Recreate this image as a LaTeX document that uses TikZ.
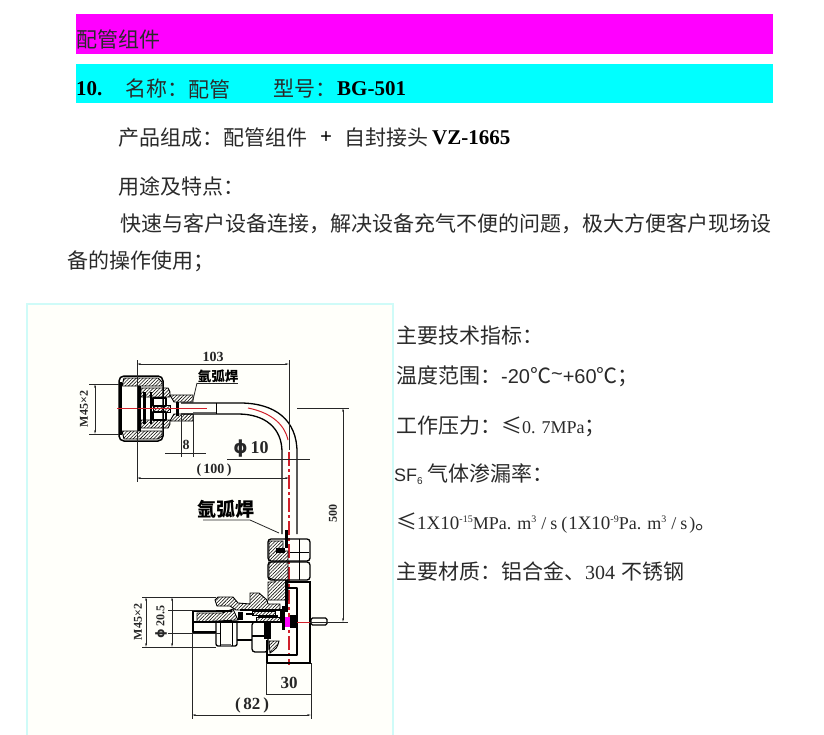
\documentclass[tikz,border=0pt]{standalone}
\usepackage{fontspec}
\usetikzlibrary{patterns.meta,arrows.meta}
\setmainfont{Noto Sans CJK SC}
\newfontfamily\latinserif{Liberation Serif}
\newcommand\latinbold{\latinserif\bfseries}
\newfontfamily\latinsans{Liberation Sans}
\newfontfamily\dejavu{DejaVu Sans}
\definecolor{ink}{HTML}{2A2A2A}
\definecolor{barmag}{HTML}{FF00FF}
\definecolor{barcy}{HTML}{00FFFF}
\definecolor{panelfill}{HTML}{FFFFFA}
\definecolor{panelline}{HTML}{CFFBF8}
\definecolor{cl}{HTML}{D0202A}
\newcommand\supr[1]{\raisebox{7pt}{\fontsize{10}{10}\selectfont #1}}
\tikzset{
  x=1pt,y=-1pt,
  txt/.style={anchor=west,inner sep=0pt,text=ink,font=\fontsize{21}{21}\selectfont},
  boldtxt/.style={txt,text=black,font=\latinbold\fontsize{21}{21}\selectfont},
  part/.style={draw=black,line width=1.3pt,line join=round},
  heavy/.style={draw=black,line width=2.6pt},
  thin part/.style={draw=black,line width=.7pt},
  hatch/.style={pattern={Lines[angle=45,distance=2.4pt,line width=.55pt]},pattern color=black,draw=black,line width=.9pt},
  dimline/.style={draw=black!85,line width=.8pt},
  dimtip/.style={draw=black!85,line width=.8pt,{Stealth[length=4pt,width=1.8pt]}-{Stealth[length=4pt,width=1.8pt]}},
  dimtext/.style={inner sep=0pt,font=\latinbold\fontsize{14}{14}\selectfont,text=black!85},
  vtext/.style={dimtext,rotate=90,font=\latinbold\fontsize{12}{12}\selectfont},
  centerline/.style={draw=cl,line width=1pt},
  centerdash/.style={draw=cl,line width=1.7pt,dash pattern=on 14pt off 3pt on 3pt off 3pt},
}
\begin{document}
\begin{tikzpicture}
\useasboundingbox (0,0) rectangle (824,735);
\fill[white] (0,0) rectangle (824,735);
% header bars
\fill[barmag] (76,14) rectangle (773,54);
\fill[barcy] (76,64) rectangle (773,103);
\node[txt] (t1) at (76,39) {配管组件};
\node[boldtxt] (t2a) at (76,89) {10.};
\node[txt] (t2b) at (125,89) {名称：};
\node[txt] (t2c) at (188,89) {配管};
\node[txt] (t2d) at (273,89) {型号：};
\node[boldtxt] (t2e) at (337,89) {BG-501};
\node[txt] (t3) at (118,138) {产品组成：配管组件};
\node[boldtxt] (t3b) at (320,138) {+};
\node[txt] (t3c) at (344,138) {自封接头};
\node[boldtxt] (t3d) at (432,138) {VZ-1665};
\node[txt] (t4) at (118,186) {用途及特点：};
\node[txt] (t5) at (120,224) {快速与客户设备连接，解决设备充气不便的问题，极大方便客户现场设};
\node[txt] (t6) at (67,261) {备的操作使用；};
% panel
\fill[panelfill] (27,304) rectangle (393,735);
\draw[panelline,line width=1.5pt] (27,735) -- (27,304) -- (393,304) -- (393,735);
% right text
\node[txt] (r1) at (396,336) {主要技术指标：};
\node[txt] (r2) at (396,376) {温度范围：{\latinsans\fontsize{20}{20}\selectfont -20}℃{\latinsans\fontsize{20}{20}\selectfont\raisebox{3pt}{\textasciitilde}+60}℃；};
\node[txt] (r3) at (396,426) {工作压力：≤{\latinserif\fontsize{18}{18}\selectfont 0. 7MPa}；};
\node[txt] (r4) at (394,474) {{\latinsans\fontsize{18}{18}\selectfont SF\raisebox{-3pt}{\fontsize{10}{10}\selectfont 6}}\hspace{5pt}气体渗漏率：};
\node[txt] (r5) at (396,523) {≤{\latinserif\fontsize{19}{19}\selectfont 1X10\supr{-15}\fontsize{18}{18}\selectfont MPa. m\supr{3}\hspace{5pt}/\hspace{4pt}s\hspace{4pt}(\hspace{1pt}\fontsize{19}{19}\selectfont 1X10\supr{-9}\fontsize{18}{18}\selectfont Pa. m\supr{3}\hspace{5pt}/\hspace{4pt}s\hspace{2pt})}。};
\node[txt] (r6) at (396,571) {主要材质：铝合金、{\latinserif\fontsize{20}{20}\selectfont 304}\hspace{6pt}不锈钢};
% ---------- top fitting
\draw[part,line width=1.5pt,rounded corners=5pt] (138,376) -- (119,376) -- (119,441) -- (163,441) -- (163,376) -- cycle;
\path[hatch] (124,378) -- (158,378) -- (162,382) -- (162,386) -- (122,386) -- cycle;
\path[hatch] (122,431) -- (162,431) -- (162,436) -- (158,439) -- (124,439) -- cycle;
\fill (119,382) rectangle (122,435);
\fill (138,386) rectangle (141,431);
\fill (143,392) rectangle (146,424);
\fill (150,392) rectangle (152,424);
\path[hatch] (141,388) -- (168,388) -- (170,392) -- (170,397) -- (141,397) -- cycle;
\path[hatch] (141,420) -- (170,420) -- (170,424) -- (168,428) -- (141,428) -- cycle;
\draw[part] (153,398) rectangle (166,406);
\draw[part] (153,412) rectangle (166,420);
\path[hatch] (153,405) rectangle (170,412);
\path[hatch] (170,395) -- (193,395) -- (193,402) -- (174,402) -- cycle;
\path[hatch] (174,414) -- (193,414) -- (193,421) -- (170,421) -- cycle;
\fill (176,402) rectangle (179,416);
% tube
\draw[part] (181,403) -- (240,403) .. controls (275,403) and (297,420) .. (297,452) -- (297,534);
\draw[part] (181,414) -- (238,414) .. controls (265,414) and (282,428) .. (282,452) -- (282,534);
\draw[thin part] (216,403) -- (216,414);
\draw[black!60,line width=.7pt] (193,412) -- (216,412);
% centre lines
\draw[centerline] (117,408) -- (207,408);
\draw[centerline] (248,408) .. controls (268,412) and (284,422) .. (288,440);
\draw[centerdash] (289,452) -- (289,665);
% ---------- lower assembly
% hexes
\draw[part,rounded corners=3pt] (268,539) rectangle (310,561);
\draw[part,rounded corners=3pt] (268,562) rectangle (310,580);
\draw[thin part] (299,539) -- (299,580);
\draw[thin part] (290,552) -- (309,552);
\path[hatch] (269,541) -- (283,541) -- (283,551) -- (288,551) -- (288,600) -- (268,600) -- (268,582) -- (275,582) -- (275,580) -- (269,578) -- cycle;
\fill (285,530) rectangle (288,548);
\fill (285,580) rectangle (288,612);
\fill (276,548) rectangle (285,553);
% body
\draw[part] (288,582) -- (311,582);
\draw[heavy] (310,583) -- (310,663) -- (267,663) -- (267,640);
\draw[part] (288,588) -- (297,588) -- (297,655) -- (268,655);
\path[hatch] (269,641) -- (279,641) .. controls (277,648) .. (270,653) -- cycle;
% stud
\draw[part,rounded corners=1.5pt] (311,618) rectangle (327,625);
\draw[centerline] (293,622) -- (310,622);
% seal
\fill (290,615) rectangle (297,628);
\fill[barmag] (285,617) rectangle (290,627);
\fill (282,606) rectangle (285,630);
% horizontal parts
\path[hatch] (218,597) -- (233,597) -- (238,603) -- (250,604) -- (250,593) -- (259,593) -- (267,600) -- (268,604) -- (280,604) -- (280,610) -- (236,610) -- (230,606) -- (217,606) -- (215,600) -- cycle;
\path[hatch] (197,613) -- (222,613) -- (233,609) -- (238,620) -- (197,622) -- cycle;
\draw[part] (192,611) -- (232,611);
\draw[part] (192,622) -- (284,622);
\draw[heavy] (193,611) -- (193,632);
\draw[part] (193,632) -- (216,632);
\draw[part,rounded corners=2pt] (216,622) -- (216,646) -- (237,646) -- (237,622);
\draw[thin part] (220,622) -- (220,646);
\draw[thin part] (232,622) -- (232,646);
\fill[black!55] (221,644) rectangle (231,647);
\draw[part] (237,640) -- (252,640);
\draw[part,rounded corners=3pt] (252,622) rectangle (268,652);
\draw[part] (252,636) -- (268,636);
\fill (264,622) rectangle (271,639);
\fill (238,612) rectangle (243,620);
\fill (246,613) rectangle (254,615);
\fill (258,615) rectangle (278,617);
\draw[part] (240,610) -- (284,610);
\path[hatch] (252,611) rectangle (275,615);
\path[hatch] (256,617) rectangle (280,622);
\fill (280,610) rectangle (283,622);
% ---------- dimensions, top
\coordinate (d103a) at (137,364); \coordinate (d103b) at (289,364);
\draw[dimline] (137,360) -- (137,482);
\draw[dimline,line width=1pt] (289,360) -- (289,450);
\draw[dimtip] (d103a) -- (d103b);
\node[dimtext] (n103) at (213,357) {103};
\draw[dimline] (297,408) -- (349,408);
\draw[dimline] (89,384) -- (119,384);
\draw[dimline] (89,434) -- (119,434);
\draw[dimtip] (95,384) -- (95,434);
\node[vtext] (nm1) at (84,409) {M45×2};
\draw[dimline] (181,414) -- (181,457);
\draw[dimline] (193,414) -- (193,457);
\draw[dimline] (165,453) -- (206,453);
\node[dimtext] (n8) at (186,445) {8};
\draw[dimline] (227,459) -- (310,459);
\node[dimtext,font=\latinbold\fontsize{18}{18}\selectfont] (nphi) at (251,449) {{\dejavu ϕ}\,10};
\draw[dimtip] (137,478) -- (289,478);
\node[dimtext] (n100) at (214,470) {(\,100\,)};
\draw[dimline] (197,383) -- (238,383);
\draw[dimline] (197,383) -- (193,400);
\node[inner sep=0pt,font=\fontsize{13.5}{14}\selectfont\bfseries] (nw1) at (218,376) {氩弧焊};
\draw[dimline] (203,520) -- (250,520) -- (279,533);
\node[inner sep=0pt,font=\fontsize{19}{19}\selectfont\bfseries] (nw2) at (226,509) {氩弧焊};
\draw[dimtip] (343,408) -- (343,622);
\draw[dimline] (310,622) -- (348,622);
\node[vtext] (n500) at (333,513) {500};
% ---------- dimensions, bottom
\draw[dimline] (142,597) -- (216,597);
\draw[dimline] (142,647) -- (216,647);
\draw[dimtip] (146,597) -- (146,647);
\node[vtext] (nm2) at (138,622) {M45×2};
\draw[dimline] (168,610) -- (216,610);
\draw[dimline] (168,633) -- (220,633);
\draw[dimtip] (172,597) -- (172,647);
\node[vtext] (nd) at (161,622) {{\dejavu ϕ}\,20.5};
\draw[dimline,line width=1pt] (192,632) -- (192,719);
\draw[dimline,line width=1pt] (311,663) -- (311,719);
\draw[dimline,line width=1pt] (266,663) -- (266,695);
\draw[dimline] (266,694) -- (311,694);
\node[dimtext,font=\latinbold\fontsize{17}{17}\selectfont] (n30) at (289,683) {30};
\draw[dimtip] (192,715) -- (311,715);
\node[dimtext,font=\latinbold\fontsize{17}{17}\selectfont] (n82) at (252,705) {(\,82\,)};
\end{tikzpicture}
\end{document}
